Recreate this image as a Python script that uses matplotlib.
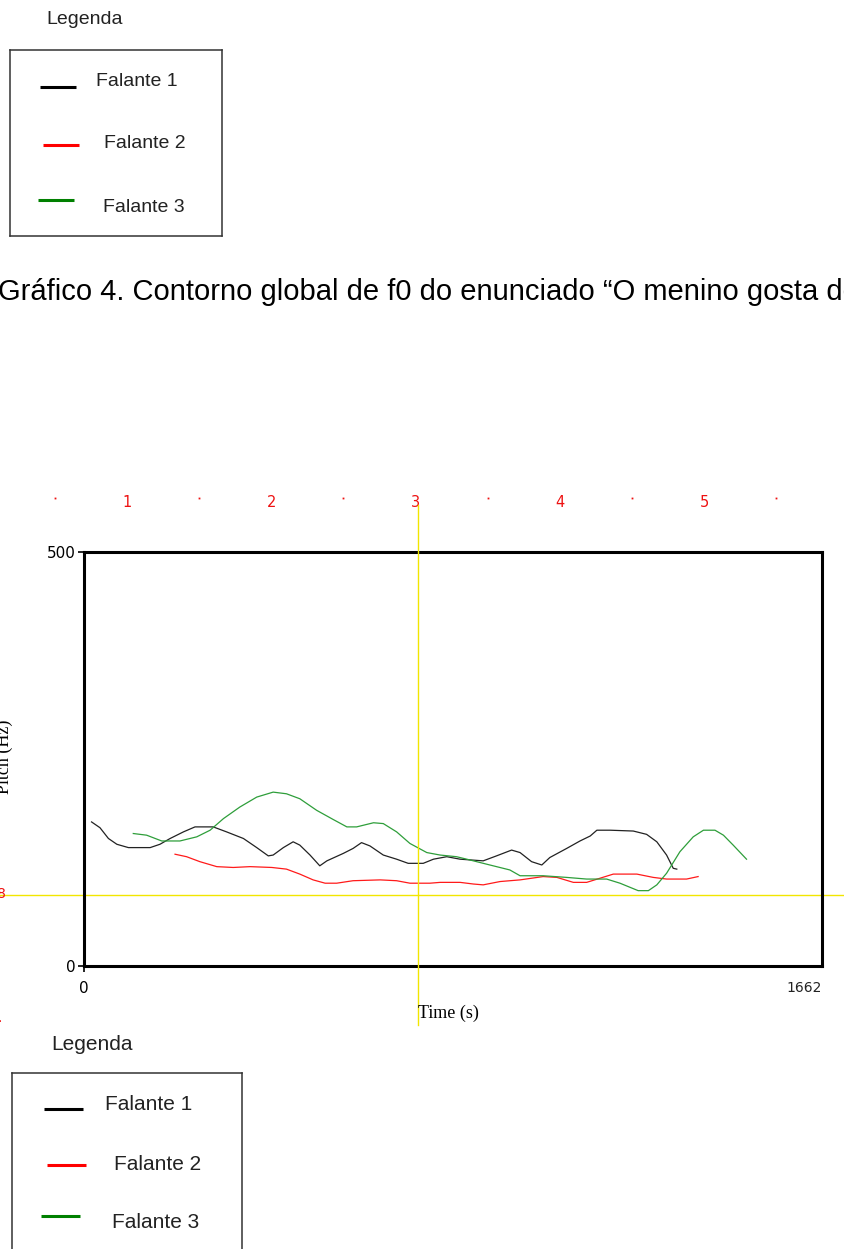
import matplotlib.pyplot as plt

# pitch contours (time in ms, f0 in Hz)
t1 = [17, 36, 55, 74, 100, 149, 171, 194, 224, 250, 291, 321, 359, 389, 415, 426, 449, 471,
      486, 509, 531, 547, 584, 606, 625, 644, 674, 704, 730, 764, 787, 817, 847, 899, 929,
      963, 982, 1008, 1031, 1049, 1087, 1117, 1140, 1155, 1185, 1237, 1267, 1290, 1312,
      1327, 1335]
f1 = [174, 167, 154, 147, 143, 143, 147, 154, 162, 168, 168, 162, 154, 143, 133, 134, 143, 150,
      146, 134, 121, 127, 136, 142, 149, 145, 134, 129, 124, 124, 129, 132, 129, 127, 133,
      140, 137, 126, 122, 131, 142, 151, 157, 164, 164, 163, 159, 150, 134,
      118, 117]

t2 = [205, 231, 261, 299, 336, 374, 423, 456, 486, 516, 543, 569, 606, 667, 704, 734, 779,
      802, 847, 877, 899, 937, 982, 1034, 1065, 1102, 1132, 1162, 1192, 1245, 1282, 1312,
      1357, 1383]
f2 = [135, 132, 126, 120, 119, 120, 119, 117, 111, 104, 100, 100, 103, 104, 103, 100, 100,
      101, 101, 99, 98, 102, 104, 108, 107, 101, 101, 106, 111, 111, 107, 105,
      105, 108]

t3 = [111, 141, 175, 216, 254, 284, 314, 351, 389, 426, 456, 486, 524, 561, 592, 614, 652,
      674, 704, 734, 772, 802, 839, 862, 914, 959, 982, 1034, 1087, 1132, 1177, 1207, 1248,
      1271, 1290, 1312, 1342, 1372, 1395, 1421, 1440, 1462, 1492]
f3 = [160, 158, 151, 151, 156, 164, 178, 192, 204, 210, 208, 202, 188, 177, 168, 168, 173,
      172, 162, 148, 137, 134, 132, 129, 122, 116, 109, 109, 107, 105, 105, 100, 91,
      91, 98, 112, 138, 156, 164, 164, 158, 146, 129]

cursor_t = 752
cursor_f = 86
t_max = 1662
f_max = 500

speakers = ['Falante 1', 'Falante 2', 'Falante 3']
leg_colors = ['black', '#ff0000', '#008000']
line_colors = ['#222222', '#ff1a1a', '#2e9e3a']
ruler_labels = ['1', '2', '3', '4', '5', '6']

W, H = 845, 1249
fig = plt.figure(figsize=(W / 100, H / 100), dpi=100)


def box(x0, y0, x1, y1):
    # pixel box (top-left origin) -> figure fraction rect
    return [x0 / W, 1 - y1 / H, (x1 - x0) / W, (y1 - y0) / H]


def legend_block(x0, y0, x1, y1, title_xy, rows, size):
    fig.text(title_xy[0] / W, 1 - title_xy[1] / H, 'Legenda', fontsize=size,
             family='Liberation Sans', color='#222222', ha='left', va='center')
    lax = fig.add_axes(box(x0, y0, x1, y1))
    lax.set_xlim(0, x1 - x0)
    lax.set_ylim(y1 - y0, 0)
    lax.set_xticks([])
    lax.set_yticks([])
    for s in lax.spines.values():
        s.set_linewidth(1.1)
        s.set_color('#333333')
    for (lx0, lx1, ly, tx, ty), name, c in zip(rows, speakers, leg_colors):
        lax.plot([lx0, lx1], [ly, ly], color=c, lw=2.2, solid_capstyle='butt')
        lax.text(tx, ty, name, fontsize=size, family='Liberation Sans',
                 color='#222222', ha='left', va='center')


# upper legend
legend_block(10, 50, 222, 236, (46, 19),
             [(30, 66, 37, 86, 32), (33, 69, 95, 94, 94), (28, 64, 150, 93, 157)], 14)

# caption (runs off the right edge of the page)
fig.text(-2 / W, 1 - 292 / H,
         'Gráfico 4. Contorno global de f0 do enunciado \u201cO menino gosta de',
         fontsize=21, family='Liberation Sans', color='black', ha='left', va='center')

# red ruler along the top
rax = fig.add_axes(box(0, 480, W, 520))
rax.axis('off')
u0 = 1 - 127 / 144.3
rax.set_xlim(u0, u0 + W / 144.3)
rax.set_ylim(0, 1)
for i, lab in enumerate(ruler_labels):
    rax.text(i + 1, 0.45, lab, color='#ee1111', fontsize=10.5,
             family='DejaVu Sans', ha='center', va='center')
    rax.plot(i + 0.5, 0.55, marker='s', ms=1.3, color='#ee1111', mew=0)

# main pitch plot
ax = fig.add_axes(box(84, 552, 822, 966))
ax.set_xlim(0, t_max)
ax.set_ylim(0, f_max)
for s in ax.spines.values():
    s.set_linewidth(2.2)
    s.set_color('black')
ax.set_xticks([0, t_max])
ax.set_xticklabels(['0', str(t_max)])
ax.set_yticks([0, f_max])
ax.set_yticklabels(['0', str(f_max)])
ax.tick_params(axis='both', length=4, width=1.2, pad=2, labelsize=11, colors='black')
ax.tick_params(axis='x', pad=7)
for lab in ax.get_xticklabels():
    lab.set_family('DejaVu Sans')
ax.get_xticklabels()[1].set_ha('right')
ax.get_xticklabels()[1].set_fontsize(10)
ax.get_xticklabels()[1].set_color('#222222')
ax.xaxis.get_major_ticks()[1].tick1line.set_visible(False)

ax.axhline(cursor_f, xmin=-84 / 738, xmax=(W - 84) / 738, color='#f2e600',
           lw=1.0, clip_on=False, zorder=1)
ax.axvline(cursor_t, ymin=(966 - 1025) / 414, ymax=(966 - 505) / 414, color='#f2e600',
           lw=1.0, clip_on=False, zorder=4)

for t, f, c in zip([t1, t2, t3], [f1, f2, f3], line_colors):
    ax.plot(t, f, color=c, lw=0.9, zorder=3)

fig.text(418 / W, 1 - 1013 / H, 'Time (s)', fontsize=13, family='Liberation Serif',
         ha='left', va='center')
fig.text(13 / W, 1 - 757 / H, 'Pitch (Hz)', fontsize=13, family='Liberation Serif',
         rotation=90, ha='right', va='center')
fig.text(1 / W, 1 - 894 / H, '8', fontsize=10, color='#ee1111', ha='center', va='center')
fig.text(0, 1 - 1022 / H, '\u00b7', fontsize=10, color='#ee1111', ha='center', va='center')

# lower legend (cut at the page bottom)
legend_block(12, 1073, 242, 1262, (51, 1045),
             [(32, 71, 36, 93, 31), (35, 74, 92, 102, 91), (29, 68, 143, 100, 150)], 15)

fig.savefig('out.png', dpi=100)
